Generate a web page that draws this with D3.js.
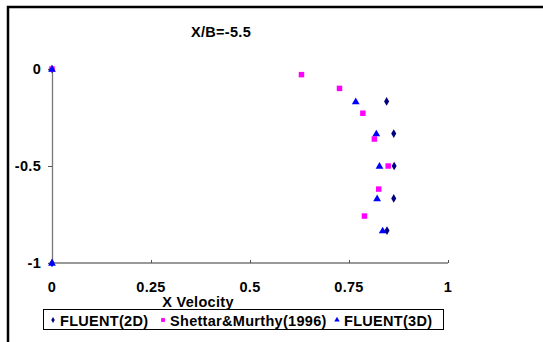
<!DOCTYPE html>
<html>
<head>
<meta charset="utf-8">
<script src="https://cdn.jsdelivr.net/npm/d3@7"></script>
<style>
body{margin:0;background:#fff;}
svg{font-family:"Liberation Sans",Arial,sans-serif;}
text{letter-spacing:0.3px;}
</style>
</head>
<body>
<svg id="chart" width="543" height="342"></svg>
<script>
// data
let yLevels = [0, -0.167, -0.333, -0.5, -0.667, -0.833, -1];
let fluent2D = [0, 0.845, 0.863, 0.864, 0.863, 0.846, 0];
let shettarY = [0, -0.029, -0.1, -0.228, -0.361, -0.5, -0.619, -0.758];
let shettarX = [0, 0.630, 0.726, 0.785, 0.814, 0.849, 0.825, 0.789];
let fluent3D = [0, 0.767, 0.819, 0.827, 0.821, 0.835, 0];
let xTicks = [0, 0.25, 0.5, 0.75, 1];
let yTicks = [0, -0.5, -1];

let fs = 14.5;
let svg = d3.select("#chart");

// outer frame
svg.append("rect").attr("x",8).attr("y",7).attr("width",560).attr("height",360)
    .attr("fill","none").attr("stroke","#000").attr("stroke-width",2.5);

let xScale = d3.scaleLinear().domain([0,1]).range([52,448]);
let yScale = d3.scaleLinear().domain([-1,0]).range([263,69]);

// y axis
let yAxis = d3.axisLeft(yScale).tickValues(yTicks).tickSize(4).tickPadding(7).tickFormat(d=>d);
let gy = svg.append("g").attr("transform","translate(52,0)").call(yAxis);
// x axis, ticks point up
let xAxis = d3.axisTop(xScale).tickValues(xTicks).tickSize(3).tickFormat("");
let gx = svg.append("g").attr("transform","translate(0,263)").call(xAxis);
[gx,gy].forEach(g=>{
    g.select(".domain").attr("stroke","#777").attr("stroke-width",1.3);
    g.selectAll(".tick line").attr("stroke","#555");
});
gy.selectAll("text").attr("font-size",fs).attr("font-weight","bold").attr("fill","#000")
    .attr("font-family","Liberation Sans, Arial, sans-serif");
gx.selectAll(".domain").attr("d","M52,0H448");

svg.append("g").selectAll("text").data(xTicks).enter().append("text")
    .attr("x",d=>xScale(d)).attr("y",291.5).attr("text-anchor","middle")
    .attr("font-size",fs).attr("font-weight","bold").text(d=>d);

svg.append("text").attr("x",198).attr("y",306.5).attr("text-anchor","middle")
    .attr("font-size",fs).attr("font-weight","bold").text("X Velocity");
svg.append("text").attr("x",221).attr("y",36.5).attr("text-anchor","middle")
    .attr("font-size",fs).attr("font-weight","bold").text("X/B=-5.5");

let diamond = d3.symbol().type(d3.symbolDiamond).size(22);
let square = d3.symbol().type(d3.symbolSquare).size(30);
let triangle = d3.symbol().type(d3.symbolTriangle).size(26);

svg.append("g").selectAll("path").data(fluent2D).enter().append("path")
    .attr("d",diamond).attr("fill","#000080")
    .attr("transform",(d,i)=>"translate("+xScale(d)+","+yScale(yLevels[i])+")");
svg.append("g").selectAll("path").data(shettarX).enter().append("path")
    .attr("d",square).attr("fill","#ff00ff")
    .attr("transform",(d,i)=>"translate("+xScale(d)+","+yScale(shettarY[i])+")");
svg.append("g").selectAll("path").data(fluent3D).enter().append("path")
    .attr("d",triangle).attr("fill","#0000ff")
    .attr("transform",(d,i)=>"translate("+xScale(d)+","+(yScale(yLevels[i])+0.5)+")");

// legend
let legend = svg.append("g");
legend.append("rect").attr("x",43.5).attr("y",309.5).attr("width",400).attr("height",20)
    .attr("fill","#fff").attr("stroke","#000").attr("stroke-width",1);
let items = [
    {label:"FLUENT(2D)", sym:diamond, color:"#000080", x:53},
    {label:"Shettar&Murthy(1996)", sym:square, color:"#ff00ff", x:163},
    {label:"FLUENT(3D)", sym:triangle, color:"#0000ff", x:337}
];
let li = legend.selectAll("g.item").data(items).enter().append("g")
    .attr("transform",d=>"translate("+d.x+",320)");
li.append("path").attr("d",d=>d.sym()).attr("fill",d=>d.color).attr("transform","scale(0.7)");
li.append("text").attr("x",7).attr("y",5.5).attr("font-size",fs).attr("font-weight","bold").text(d=>d.label);
</script>
</body>
</html>
